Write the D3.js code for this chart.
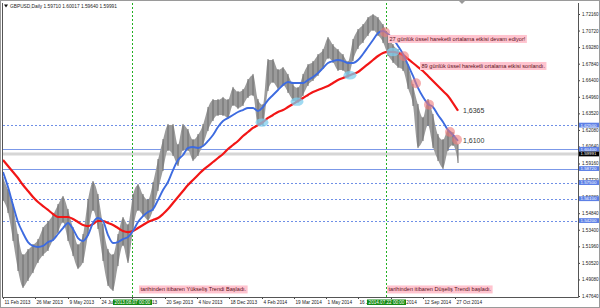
<!DOCTYPE html>
<html>
<head>
<meta charset="utf-8">
<script src="https://cdn.jsdelivr.net/npm/d3@7"></script>
<style>
html, body { margin: 0; padding: 0; background: #fff; }
svg { display: block; font-family: "Liberation Sans", Arial, sans-serif; }
</style>
</head>
<body>
<svg id="chart" width="600" height="308"></svg>
<script>
// weekly samples (every 5 daily bars)
var barStep = 5;

var highs = [1.5790,1.5686,1.5555,1.5294,1.5120,1.5164,1.5207,1.5251,1.5355,1.5407,
	1.5468,1.5555,1.5625,1.5512,1.5355,1.5207,1.5294,1.5599,1.5755,1.5642,
	1.5381,1.5164,1.5120,1.5294,1.5442,1.5381,1.5642,1.5729,1.5642,1.5599,
	1.5746,1.5946,1.6120,1.6251,1.6251,1.6077,1.6251,1.6207,1.6120,1.6164,
	1.6251,1.6399,1.6468,1.6468,1.6486,1.6468,1.6573,1.6538,1.6555,1.6642,
	1.6686,1.6468,1.6425,1.6816,1.6816,1.6729,1.6746,1.6686,1.6599,1.6573,
	1.6686,1.6772,1.6799,1.6859,1.6903,1.7007,1.6946,1.6903,1.6859,1.6799,
	1.6990,1.7077,1.7120,1.7181,1.7207,1.7181,1.7120,1.7033,1.6946,1.6903,
	1.6859,1.6772,1.6599,1.6425,1.6312,1.6468,1.6338,1.6164,1.6120,1.6207,1.6181,1.6077];

var lows = [1.5599,1.5494,1.5251,1.4990,1.4842,1.4903,1.4972,1.5060,1.5120,1.5164,
	1.5251,1.5320,1.5407,1.5251,1.5120,1.5007,1.5060,1.5294,1.5512,1.5355,
	1.5077,1.4860,1.4816,1.5033,1.5207,1.5060,1.5338,1.5512,1.5468,1.5425,
	1.5512,1.5686,1.5859,1.6033,1.5990,1.5903,1.6033,1.6033,1.5946,1.5990,
	1.6077,1.6207,1.6294,1.6338,1.6338,1.6312,1.6425,1.6399,1.6425,1.6494,
	1.6512,1.6251,1.6251,1.6555,1.6625,1.6573,1.6599,1.6538,1.6468,1.6451,
	1.6512,1.6599,1.6642,1.6686,1.6746,1.6833,1.6799,1.6729,1.6729,1.6668,
	1.6816,1.6920,1.6972,1.7033,1.7077,1.7033,1.6972,1.6859,1.6799,1.6755,
	1.6729,1.6573,1.6425,1.6059,1.6120,1.6251,1.6059,1.5946,1.5877,1.6033,1.6077,1.5929];

var ema27 = [1.5842,1.5712,1.5555,1.5407,1.5312,1.5233,1.5199,1.5190,1.5199,1.5233,
	1.5251,1.5303,1.5355,1.5399,1.5346,1.5268,1.5242,1.5294,1.5399,1.5442,
	1.5416,1.5294,1.5225,1.5233,1.5259,1.5277,1.5329,1.5407,1.5459,1.5494,
	1.5520,1.5599,1.5686,1.5755,1.5859,1.5946,1.5990,1.6051,1.6059,1.6051,
	1.6068,1.6112,1.6164,1.6233,1.6286,1.6312,1.6338,1.6364,1.6381,1.6399,
	1.6399,1.6373,1.6407,1.6468,1.6512,1.6555,1.6599,1.6625,1.6616,1.6616,
	1.6616,1.6642,1.6668,1.6703,1.6746,1.6790,1.6807,1.6816,1.6807,1.6790,
	1.6790,1.6816,1.6868,1.6929,1.6990,1.7051,1.7068,1.7042,1.6999,1.6938,
	1.6868,1.6773,1.6677,1.6573,1.6494,1.6433,1.6407,1.6338,1.6277,1.6207,1.6164,1.6112];

var ema89 = [1.5946,1.5894,1.5842,1.5790,1.5729,1.5677,1.5625,1.5581,1.5546,1.5512,
	1.5477,1.5451,1.5451,1.5451,1.5433,1.5407,1.5381,1.5372,1.5390,1.5416,
	1.5416,1.5399,1.5381,1.5355,1.5329,1.5320,1.5329,1.5355,1.5381,1.5407,
	1.5425,1.5442,1.5477,1.5520,1.5573,1.5625,1.5677,1.5729,1.5773,1.5816,
	1.5859,1.5894,1.5929,1.5964,1.5999,1.6042,1.6077,1.6112,1.6155,1.6190,
	1.6225,1.6251,1.6277,1.6312,1.6338,1.6364,1.6381,1.6407,1.6433,1.6459,
	1.6486,1.6512,1.6538,1.6555,1.6573,1.6590,1.6616,1.6642,1.6660,1.6677,
	1.6694,1.6712,1.6746,1.6781,1.6816,1.6851,1.6877,1.6886,1.6886,1.6877,
	1.6859,1.6825,1.6790,1.6755,1.6720,1.6677,1.6633,1.6590,1.6546,1.6503,1.6442,1.6375];

var priceTicks = [1.72160,1.70720,1.69280,1.67840,1.66400,1.64960,1.63520,1.62080,1.60640,
	1.59160,1.57720,1.56280,1.54840,1.53400,1.51960,1.50520,1.49080,1.47640];

var dateLabels = ['11 Feb 2013','26 Mar 2013','9 May 2013','24 Jun 2013','7 Aug 2013','20 Sep 2013',
	'4 Nov 2013','18 Dec 2013','4 Feb 2014','19 Mar 2014','1 May 2014','16 Jun 2014',
	'29 Jul 2014','12 Sep 2014','27 Oct 2014'];
var dateBars = [0,32,65,97,129,162,194,226,259,291,323,355,388,420,452];

var dottedLevels = [1.62500, 1.57500, 1.56100, 1.54200];
var solidLevels = [1.60400, 1.58720];
var lastPrice = 1.59991;
var ohlcText = 'GBPUSD,Daily  1.59710 1.60017 1.59640 1.59991';

var markerBars = [129, 383];
var markerLabels = ['2013.08.07 00:00', '2014.07.22 00:00'];

var touch89Bars = [259, 294, 347, 390];
var touch27Bars = [382, 401, 413, 426, 447, 454];

var svg = d3.select('#chart');
var plot = {left: 3, right: 578, top: 3, bottom: 297};

var x = d3.scaleLinear().domain([0, 455]).range([3, 458]);
var y = d3.scaleLinear().domain([1.4764, 1.7216]).range([296, 14]);

var bars = highs.map(function(d, i){ return {bar: i * barStep, high: d, low: lows[i]}; });

function valueAt(series, bar){
	var p = bar / barStep, i = Math.min(Math.floor(p), series.length - 2), t = p - i;
	return series[i] * (1 - t) + series[i + 1] * t;
}

// frame
svg.append('rect').attr('x', 0.5).attr('y', 0.5).attr('width', 599).attr('height', 307)
	.attr('fill', 'none').attr('stroke', '#9a9a9a');

svg.append('clipPath').attr('id', 'clip').append('rect')
	.attr('x', plot.left).attr('y', plot.top)
	.attr('width', plot.right - plot.left).attr('height', plot.bottom - plot.top);

var g = svg.append('g').attr('clip-path', 'url(#clip)');

// current price band
g.append('line').attr('x1', plot.left).attr('x2', plot.right)
	.attr('y1', y(lastPrice)).attr('y2', y(lastPrice))
	.attr('stroke', '#d6d6d6').attr('stroke-width', 3);

g.selectAll('.lvl-dot').data(dottedLevels).enter().append('line')
	.attr('x1', plot.left).attr('x2', plot.right)
	.attr('y1', function(d){ return Math.round(y(d)) + 0.5; })
	.attr('y2', function(d){ return Math.round(y(d)) + 0.5; })
	.attr('stroke', '#6f8fe6').attr('stroke-dasharray', '2,2');

g.selectAll('.lvl-solid').data(solidLevels).enter().append('line')
	.attr('x1', plot.left).attr('x2', plot.right)
	.attr('y1', function(d){ return Math.round(y(d)) + 0.5; })
	.attr('y2', function(d){ return Math.round(y(d)) + 0.5; })
	.attr('stroke', '#7b98e8');

g.selectAll('.vmark').data(markerBars).enter().append('line')
	.attr('x1', function(d){ return Math.round(x(d)) + 0.5; })
	.attr('x2', function(d){ return Math.round(x(d)) + 0.5; })
	.attr('y1', plot.top).attr('y2', plot.bottom)
	.attr('stroke', '#22b022').attr('stroke-dasharray', '2,2');

// price bars
var area = d3.area()
	.x(function(d){ return x(d.bar); })
	.y0(function(d){ return y(d.low); })
	.y1(function(d){ return y(d.high); })
	.curve(d3.curveMonotoneX);

g.append('path').datum(bars).attr('d', area).attr('fill', '#9b9b9b');

g.selectAll('.bar').data(bars).enter().append('line')
	.attr('x1', function(d){ return x(d.bar); })
	.attr('x2', function(d){ return x(d.bar); })
	.attr('y1', function(d){ return y(d.high) - 1; })
	.attr('y2', function(d){ return y(d.low) + 1; })
	.attr('stroke', '#6c6c6c').attr('stroke-width', 1);

var line = d3.line()
	.x(function(d, i){ return x(i * barStep); })
	.y(function(d){ return y(d); })
	.curve(d3.curveMonotoneX);

g.append('path').datum(ema89).attr('d', line)
	.attr('fill', 'none').attr('stroke', '#f21616').attr('stroke-width', 2.2);
g.append('path').datum(ema27).attr('d', line)
	.attr('fill', 'none').attr('stroke', '#3d6be0').attr('stroke-width', 1.9);

g.selectAll('.touch89').data(touch89Bars).enter().append('ellipse')
	.attr('cx', function(d){ return x(d); })
	.attr('cy', function(d){ return y(valueAt(ema89, d)); })
	.attr('rx', 6.5).attr('ry', 4.2)
	.attr('fill', '#7fcdee').attr('opacity', 0.75);

g.selectAll('.touch27').data(touch27Bars).enter().append('circle')
	.attr('cx', function(d){ return x(d); })
	.attr('cy', function(d){ return y(valueAt(ema27, d)); })
	.attr('r', 5)
	.attr('fill', '#ee7a7a').attr('opacity', 0.6);

// end-of-line values
var endBar = (ema27.length - 1) * barStep;
svg.append('text').attr('x', x(endBar) + 5).attr('y', y(ema89[ema89.length - 1]) + 2)
	.attr('font-size', 7).attr('fill', '#333').text('1,6365');
svg.append('text').attr('x', x(endBar) + 5).attr('y', y(ema27[ema27.length - 1]) + 2.5)
	.attr('font-size', 7).attr('fill', '#333').text('1,6100');

// notes
function note(text, bar, price){
	var n = svg.append('g');
	var r = n.append('rect').attr('fill', '#ffc4cf');
	var t = n.append('text').attr('x', x(bar) + 1.5).attr('y', y(price)).attr('dy', '0.35em')
		.attr('font-size', 5.6).attr('fill', '#5a1020').text(text);
	var w = t.node().getComputedTextLength();
	r.attr('x', x(bar)).attr('y', y(price) - 4).attr('width', w + 3).attr('height', 8);
}
note('27 günlük üssel hareketli ortalama etkisi devam ediyor!', 385, 1.6999);
note('89 günlük üssel hareketli ortalama etkisi sonlandı.', 417, 1.6764);
note('tarihinden itibaren Yükseliş Trendi Başladı.', 136, 1.4821);
note('tarihinden itibaren Düşeliş Trendi başladı.', 384, 1.4821);

// axes
var xAxis = d3.axisBottom(x).tickValues(dateBars)
	.tickFormat(function(d, i){ return dateLabels[i]; })
	.tickSize(2).tickSizeOuter(0);
var gx = svg.append('g').attr('transform', 'translate(0,' + plot.bottom + ')').call(xAxis);
gx.select('.domain').remove();
gx.selectAll('line').attr('stroke', '#444');
gx.selectAll('text').attr('text-anchor', 'start').attr('x', 1).attr('y', 3.5)
	.attr('font-size', 4.7).attr('fill', '#222').attr('font-family', '"Liberation Sans", Arial, sans-serif');

var yAxis = d3.axisRight(y).tickValues(priceTicks).tickFormat(d3.format('.5f'))
	.tickSize(2).tickPadding(2).tickSizeOuter(0);
var gy = svg.append('g').attr('transform', 'translate(' + plot.right + ',0)').call(yAxis);
gy.select('.domain').remove();
gy.selectAll('line').attr('stroke', '#444');
gy.selectAll('text').attr('font-size', 4.6).attr('fill', '#222')
	.attr('font-family', '"Liberation Sans", Arial, sans-serif');

svg.append('path')
	.attr('d', 'M' + (plot.left - 0.5) + ',' + plot.top + 'V' + (plot.bottom + 0.5) +
		'H' + (plot.right + 0.5) + 'V' + plot.top)
	.attr('fill', 'none').attr('stroke', '#555');

// price tags on the right axis
function tag(price, color){
	var gt = svg.append('g');
	gt.append('rect').attr('x', plot.right + 1).attr('y', y(price) - 2.4)
		.attr('width', 20).attr('height', 4.8).attr('fill', color);
	gt.append('text').attr('x', plot.right + 2.5).attr('y', y(price)).attr('dy', '0.35em')
		.attr('font-size', 4.4).attr('fill', '#fff').text(d3.format('.5f')(price));
}
dottedLevels.concat(solidLevels).forEach(function(p){ tag(p, '#5d80e6'); });
tag(lastPrice, '#000');

// date tags at the markers
markerBars.forEach(function(b, i){
	var cx = Math.round(x(b)) + 0.5;
	svg.append('rect').attr('x', cx - 19.5).attr('y', plot.bottom + 2.5).attr('width', 39).attr('height', 5.5)
		.attr('fill', '#128a12');
	svg.append('text').attr('x', cx).attr('y', plot.bottom + 5.3).attr('dy', '0.35em')
		.attr('text-anchor', 'middle').attr('font-size', 4.6).attr('fill', '#fff').text(markerLabels[i]);
});

// title line and shift marker
svg.append('path').attr('d', 'M4,4.5h4l-2,3z').attr('fill', '#111');
svg.append('text').attr('x', 10).attr('y', 7.5).attr('font-size', 4.8).attr('fill', '#222').text(ohlcText);
svg.append('path').attr('d', 'M' + (x(endBar) + 1) + ',1h6l-3,3z').attr('fill', '#999');
</script>
</body>
</html>
